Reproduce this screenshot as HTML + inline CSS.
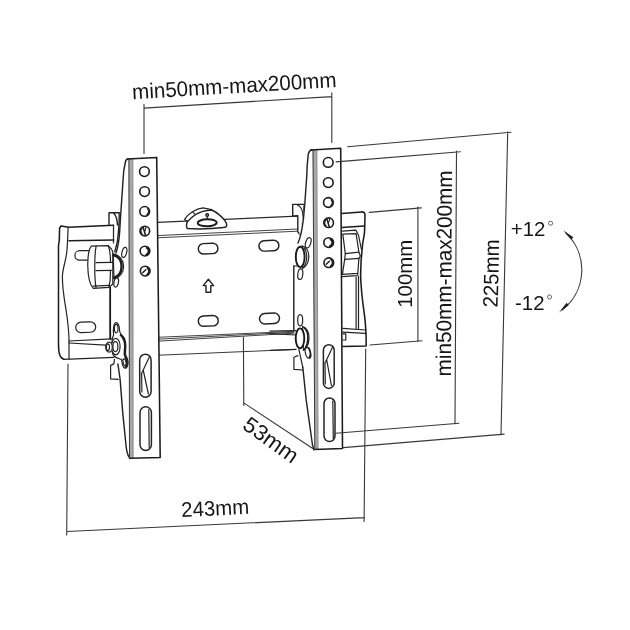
<!DOCTYPE html>
<html>
<head>
<meta charset="utf-8">
<title>TV mount dimensions</title>
<style>
html,body{margin:0;padding:0;background:#fff;}
body{width:630px;height:630px;overflow:hidden;font-family:"Liberation Sans",sans-serif;}
svg{display:block;position:absolute;left:0;top:0;opacity:0.999;}
.d{fill:none;stroke:#383838;stroke-width:1.1;stroke-linecap:round;}
.o{fill:none;stroke:#1c1c1c;stroke-width:1.55;stroke-linecap:round;stroke-linejoin:round;}
.t{fill:none;stroke:#242424;stroke-width:1.2;stroke-linecap:round;stroke-linejoin:round;}
.w{fill:#fff;stroke:#1c1c1c;stroke-width:1.55;stroke-linecap:round;stroke-linejoin:round;}
.wt{fill:#fff;stroke:#242424;stroke-width:1.2;stroke-linecap:round;stroke-linejoin:round;}
text{font-family:"Liberation Sans",sans-serif;fill:#161616;stroke:none;}
</style>
</head>
<body>
<svg width="630" height="630" viewBox="0 0 630 630">
<rect width="630" height="630" fill="#fff"/>
<defs><filter id="soft" x="0" y="0" width="630" height="630" filterUnits="userSpaceOnUse"><feGaussianBlur stdDeviation="0.45"/></filter></defs>
<g filter="url(#soft)">


<!-- ================= back plate (left part) ================= -->
<g id="plateL">
  <path class="o" d="M113.5,225.3 L68.5,227.2 L61.2,225.9 L59.6,228 L59.3,240 L58.5,246 L58.5,345 Q58.6,358.5 64,359.2"/>
  <path class="t" d="M68.1,227.6 C67.6,240 67.4,246 67,250 C66,262 62.4,268 62.4,277 C62.4,292 65.5,305 66.8,315 C68,324 69,332 69,341 L69,359"/>
    <path class="o" d="M69,240.7 L113.6,240"/>
  <path class="t" d="M113.5,225.4 L113.5,243"/>
  <rect class="t" x="75.7" y="322" width="20" height="10.4" rx="5.2" transform="rotate(-2 85.7 327)"/>
  <path class="o" d="M110.2,287.5 L110.2,339" style="stroke-width:1.9"/>
</g>

<!-- ================= rails / center plate ================= -->
<g id="rails">
  <g style="stroke:#3c3c3c">
  <path class="t" style="stroke-width:1.3;stroke:#2a2a2a" d="M157.5,222.4 L297.6,216.2"/>
  <path class="t" style="stroke-width:1;stroke:#444" d="M157.5,235.6 L297.6,229 M157.5,237.8 L297.6,231.2"/>
  <path class="t" style="stroke-width:1;stroke:#444" d="M157.5,337.3 L294,331.4 M157.5,339.2 L294,332.2 M157.5,341.2 L294,333.2"/>
  <path class="t" style="stroke-width:1.1;stroke:#3a3a3a" d="M157.5,355.2 L294,349.5"/>
  </g>
  <!-- slots -->
  <rect class="t" style="stroke-width:1.45" x="198.3" y="243.4" width="19.6" height="10.4" rx="5.2" transform="rotate(-2.5 208.6 249)"/>
  <rect class="t" style="stroke-width:1.45" x="258.9" y="240.5" width="20" height="10.4" rx="5.2" transform="rotate(-2.5 268.9 245.7)"/>
  <rect class="t" style="stroke-width:1.45" x="198.3" y="315.7" width="20" height="10.4" rx="5.2" transform="rotate(-2.5 208.3 320.9)"/>
  <rect class="t" style="stroke-width:1.45" x="259.5" y="313.3" width="20" height="10.4" rx="5.2" transform="rotate(-2.5 269.5 318.5)"/>
  <!-- arrow -->
  <path class="t" style="stroke-width:1.4" d="M208.4,279.2 L213.6,285.6 L210.8,285.6 L210.8,292.3 L206,292.3 L206,285.6 L203.2,285.6 Z"/>
  <!-- bubble level -->
  <path class="t" d="M184.6,219.4 C188,213.5 196,208.6 203,207.8 L211.7,209.6 M184.6,219.4 L187.6,221.4 M193,212.4 L195.6,214.6"/>
  <path class="wt" style="stroke-width:1.5" d="M187.4,228.6 C186,226.5 186.5,223.5 187.6,221.4 C193,215.5 201,211.2 207.2,210.5 L211.7,210 C216,212 221,216 224,219.5 C226,222 227.2,224 226.6,226 C226.2,227.3 225,227.5 223.5,227.6 C212,228.9 199,229.2 187.4,228.6 Z"/>
  <ellipse cx="207.2" cy="222.8" rx="9.5" ry="3.5" fill="none" stroke="#1a1a1a" stroke-width="1.9" transform="rotate(-1.5 207.2 222.8)"/>
  <circle cx="207.2" cy="215" r="1.3" fill="none" stroke="#1a1a1a" stroke-width="1.4"/>
  <path class="t" d="M207.2,216.6 L207.2,219"/>
</g>

<!-- ================= back plate (right part) ================= -->
<g id="plateR">
  <path class="o" d="M341.7,213.4 L361.5,211.9 Q365,211.8 365,215 L364.6,231 C364.2,237 363.2,240 362.6,244 L361.1,260.6 L360.6,275 C361,290 362.6,302 364.1,312.4 C365.4,321 366.2,330 366.2,346 L342.9,346.5"/>
  <path class="o" d="M341.7,227.6 L364.4,225.9"/>
  <path class="t" d="M342.6,231.2 L355.8,230.1 L358.6,235.5 L361.4,249.5"/>
  <path class="wt" d="M342.8,234.1 L356.1,233.7 L358.9,252.2 L345.3,253.6 Z"/>
  <path class="wt" d="M344.7,259.4 L358.9,258.3 L357.8,273.3 L342.4,274.4 Z"/>
  <path class="t" d="M358.9,252.2 L360.4,256 L358.9,258.3 M345.3,253.6 L344.7,259.4 M342.4,276.6 L357.2,275.6 L357.8,273.3"/>
  <path class="t" d="M358.5,276 L358.5,328.6 M356.1,277 L356.1,328.4"/>
  <path class="t" d="M342.9,328.4 L365.6,330 M342.9,332.1 L365.8,333.4"/>
  <path class="t" d="M343,333.8 L345.8,333.8 L345.8,340 L343,340"/>
</g>

<!-- ================= left bracket ================= -->
<g id="brL">
  <!-- flange -->
  <path d="M132.5,158.7 L126.4,159 L120.5,216 L113,256 L111.4,290 L111.4,330 L116.7,366.7 L124.3,442.9 L130,458.2 L132.8,458.2 Z" fill="#fff"/>
  <path class="t" style="stroke-width:1.45" d="M128,159 Q126,159.2 125.4,162 C124,168 123.3,173 123.2,178 L120.6,216 L119.7,231 C119.3,238 118,247 116,253"/>
  <path class="t" style="stroke-width:1.45" d="M117.9,364 L120.1,379.2 L122.7,412.4 L126.2,447.3 Q127.4,455.8 130,458.2"/>
  <!-- small tab -->
  <path class="t" style="stroke-width:1.4" d="M119.4,212.8 L109,212.8 L109,225.4 M113.5,213 C116.5,216 117.3,220 117.5,225 M119.2,213 C119.4,222 118.5,233 117.3,242 L114.8,251.6"/>
  <!-- front face -->
  <path d="M132.5,158.7 L156.7,157.4 L160.2,457.4 L132.8,458.2 Z" fill="#fff"/>
  <path d="M128.7,158.9 L132.7,158.7 L133,458.2 L129.3,458.2 Z" fill="#a8a8a8"/>
  <path class="t" style="stroke:#3a3a3a;stroke-width:1" d="M128.9,158.9 L129.5,458.2"/>
  <path class="t" style="stroke:#666;stroke-width:0.7" d="M132.9,158.7 L133.2,458.2"/>
  <path class="o" d="M127.6,159 L156.7,157.4 L160.2,457.4 L129.6,458.3"/>
  <!-- holes -->
  <g class="o" style="stroke-width:1.6">
    <circle cx="144.4" cy="171.6" r="4.85"/>
    <circle cx="144.6" cy="191.6" r="4.85"/>
    <circle cx="144.7" cy="211.4" r="4.85"/>
    <circle cx="144.8" cy="231.1" r="4.85"/>
    <circle cx="145.0" cy="251.1" r="4.85"/>
    <circle cx="145.2" cy="271.1" r="4.85"/>
  </g>
  <g fill="none" stroke="#1a1a1a" stroke-linecap="round">
    <path d="M147.5,208.6 A3.9,3.9 0 0 1 146.9,214.6" stroke-width="1.3"/>
    <path d="M143.2,227.5 L145.4,235.0" stroke-width="1.5"/>
    <path d="M146.0,227.2 L144.7,231.6" stroke-width="1.1"/>
    <path d="M142.3,234.1 A3.9,3.9 0 0 1 142.3,228.1" stroke-width="1.2"/>
    <path d="M146.8,247.9 A3.7,3.7 0 0 1 146.3,254.6" stroke-width="2.0"/>
    <path d="M147.3,268.0 A3.8,3.8 0 0 1 147.1,274.4" stroke-width="1.7"/>
    <path d="M142.6,272.7 L145.8,269.7" stroke-width="1.4"/>
  </g>
  <!-- slots -->
  <rect class="t" style="stroke-width:1.5" x="139.7" y="354.2" width="11.4" height="43" rx="5.7"/>
  <path class="t" d="M149.4,357 L141.3,374 M143.2,370 L148.4,394 M141.6,374 L141.9,392"/>
  <rect class="t" style="stroke-width:1.5" x="140" y="406.8" width="11.4" height="43.6" rx="5.7"/>
  <path class="t" d="M148.8,409.5 L149.2,447.5"/>
</g>

<!-- left knob -->
<g id="knobL">
  <path class="t" d="M90,250.7 L79.6,250.7 A4.7,4.7 0 0 0 79.6,260.1 L90,260.1"/>
  <path class="wt" d="M91.3,246.2 L108.3,245.6 L111.3,249 L112.8,251.5 L112.8,284 L108.9,287.4 L93.3,288.4 C90,285 88,276 87.8,266.5 C87.6,258 88.5,250 91.3,246.2 Z"/>
  <path class="t" d="M96.1,246.2 C94.3,255 94.3,279 96.1,288.2"/>
  <path class="t" d="M96,262.7 L112.8,262.4 M96,270.6 L111.6,270.3 M93,286.2 L109.5,285.4"/>
  <path class="t" d="M108.3,245.6 C110,250 110.6,256 110.4,262.4 M110.4,270.5 C110.6,277 110,283 108.9,287.4"/>
  <!-- star washer / bolt -->
  <ellipse class="wt" cx="124.3" cy="252.4" rx="2.3" ry="5.2" transform="rotate(14 124.3 252.4)"/>
  <ellipse class="wt" cx="116.2" cy="282.4" rx="2.2" ry="4.7" transform="rotate(12 116.2 282.4)"/>
  <path class="wt" d="M113.2,253.8 C119.5,255 123.6,260 123.6,266.5 C123.6,272.5 120,277.5 114,279 Z"/>
  <path d="M113.4,255.2 C118.6,256.6 121.6,261 121.6,266.5 C121.6,272 118.6,276.2 114.2,277.6" fill="none" stroke="#1a1a1a" stroke-width="2.4" stroke-linecap="round"/>
</g>

<!-- left lower bolt -->
<g id="boltL">
  <path class="t" d="M69,341 L111.7,338.9 M69,343 L105.6,345.2 M63.5,359.3 L113.9,357.4"/>
  <path class="wt" d="M116,322.6 C118.4,322.6 119.4,326.5 119.6,331 C119.7,333 120.5,334 122,335.2 C125.5,338 126.6,345 125.6,351 C125.2,353.5 125.4,355 126.4,356.6 C128,359.5 128.4,364 127,367 C126,369 124,368.4 123,366 C122,363.5 122,361 121.4,359.4 C119,358.6 116,358 114,356 C112,354 111.8,351 111.8,347 C111.8,342 112.2,337.5 113.6,335 C113,331 113.4,323 116,322.6 Z"/>
  <path d="M120.6,335 C124.8,338.5 125.4,346 124.6,351.5 C124.2,354 124.6,356 125.6,357.6 C127,360 127.2,364 126,367" fill="none" stroke="#1a1a1a" stroke-width="1.9" stroke-linecap="round"/>
  <ellipse class="t" cx="116.2" cy="328.6" rx="1.8" ry="4.2"/>
  <ellipse class="t" cx="124.6" cy="362.4" rx="1.5" ry="3.6" transform="rotate(-12 124.6 362.4)"/>
  <ellipse class="wt" cx="115.8" cy="346.6" rx="4.3" ry="8.2"/>
  <ellipse class="t" cx="115.4" cy="346.6" rx="2.5" ry="5"/>
  <ellipse class="wt" cx="109" cy="347.2" rx="3.3" ry="5"/>
  <ellipse class="t" cx="107.9" cy="347.2" rx="1.6" ry="3.4"/>
  <!-- small tab below -->
  <path class="t" d="M114.4,359.4 L113.9,363.9 L110.6,365.4 L110.6,378.9 L118.2,379.4"/>
</g>

<!-- ================= right bracket ================= -->
<g id="brR">
  <!-- tab of rail -->
  <path class="wt" style="stroke-width:1.4" d="M304.4,204.4 L292.7,204.4 L292.7,216 L297.8,215.8 L297.8,231.8 L301,236 Z"/>
  <path class="t" d="M297.4,205 C300.5,206 302.6,209.5 303.2,216"/>
  <!-- flange -->
  <path d="M316.6,149.3 L310.5,149.6 L304.8,204 L298,243 L294.6,266 L294.6,330 L302.8,367.2 L306.2,400 L313.8,449.5 L317.6,449.5 Z" fill="#fff"/>
  <path class="t" style="stroke-width:1.45" d="M311.6,149.8 Q309.2,150.4 308.3,154 C307.4,161 306.9,169 306.7,177 L304.8,204 L303.3,220 C302,230 300.5,238 298,243"/>
  <path class="t" style="stroke-width:1.45" d="M293.8,266 L293.8,329.6"/>
  <path class="t" style="stroke-width:1.45" d="M302.8,367.2 L306.2,400 L312.5,445 L313.8,449.5"/>
  <!-- front face -->
  <path d="M316.6,149.6 L340.7,148.3 L342.5,448.6 L317.6,449.5 Z" fill="#fff"/>
  <path d="M312.8,149.8 L316.7,149.6 L317.9,449.5 L314.6,449.5 Z" fill="#a8a8a8"/>
  <path class="t" style="stroke:#3a3a3a;stroke-width:1" d="M313,149.8 L314.8,449.5"/>
  <path class="t" style="stroke:#666;stroke-width:0.7" d="M316.9,149.6 L318.1,449.5"/>
  <path class="o" d="M311.2,149.9 L340.7,148.3 L342.5,448.6 L313.8,449.6"/>
  <!-- holes -->
  <g class="o" style="stroke-width:1.6">
    <circle cx="328.2" cy="162.4" r="4.85"/>
    <circle cx="328.3" cy="182.6" r="4.85"/>
    <circle cx="328.4" cy="202.5" r="4.85"/>
    <circle cx="328.6" cy="222.7" r="4.85"/>
    <circle cx="328.7" cy="242.6" r="4.85"/>
    <circle cx="328.8" cy="262.7" r="4.85"/>
  </g>
  <g fill="none" stroke="#1a1a1a" stroke-linecap="round">
    <path d="M331.2,199.7 A3.9,3.9 0 0 1 330.7,205.7" stroke-width="1.3"/>
    <path d="M327.0,219.1 L329.2,226.6" stroke-width="1.5"/>
    <path d="M329.8,218.8 L328.4,223.2" stroke-width="1.1"/>
    <path d="M326.1,225.7 A3.9,3.9 0 0 1 326.1,219.7" stroke-width="1.2"/>
    <path d="M330.5,239.4 A3.7,3.7 0 0 1 329.9,246.1" stroke-width="2.0"/>
    <path d="M331.0,259.6 A3.8,3.8 0 0 1 330.7,266.0" stroke-width="1.7"/>
    <path d="M326.2,264.3 L329.4,261.3" stroke-width="1.4"/>
  </g>
  <!-- slots -->
  <rect class="t" style="stroke-width:1.5" x="323.4" y="344.8" width="10.8" height="43.6" rx="5.4"/>
  <path class="t" d="M332.4,347.4 L324.8,363.6 M326.7,359.8 L331.4,385.5 M325,364 L325.3,384"/>
  <rect class="t" style="stroke-width:1.5" x="324" y="398" width="11" height="43.6" rx="5.5"/>
  <path class="t" d="M332.8,401 L333.3,439"/>
</g>

<!-- right bolts -->
<g id="boltR">
  <ellipse class="wt" cx="308.2" cy="242.8" rx="2.5" ry="5.3" transform="rotate(18 308.2 242.8)"/>
  <ellipse class="wt" cx="300.3" cy="274.2" rx="2.5" ry="5.3" transform="rotate(6 300.3 274.2)"/>
  <path class="wt" d="M302,245.8 C307,247.5 309,252 308.8,257 C308.6,262.5 306,266.5 302.6,268.4 Z"/>
  <path class="t" d="M304,248 C306.2,250.5 306.8,254 306.7,257.5 C306.6,261.5 305.6,264.5 303.8,266.6"/>
  <ellipse cx="300.2" cy="256.9" rx="4.4" ry="10.2" fill="#fff" stroke="#1a1a1a" stroke-width="1.9"/>
  <path class="t" d="M293.7,266 L297,266"/>

  <path class="t" d="M270,331.2 L296,330.6 M270,333.6 L296,335 M270,350.4 L296,349.4"/>
  <ellipse class="wt" cx="300.2" cy="320.2" rx="2.5" ry="5.6"/>
  <ellipse class="wt" cx="308" cy="352.8" rx="2.6" ry="5.5" transform="rotate(-14 308 352.8)"/>
  <path class="wt" d="M302.6,326.4 C307.5,328.5 309.2,333.5 309,338.5 C308.8,344 307,348 303.4,350.4 Z"/>
  <path d="M304.4,328 C307.6,331 308,335 307.9,338.5 C307.8,342.5 306.8,346 305,348.6 M308.6,348 C310.2,350.5 310.6,355 309.6,357.6" fill="none" stroke="#1a1a1a" stroke-width="1.6" stroke-linecap="round"/>
  <ellipse cx="300" cy="338.3" rx="4.3" ry="9.9" fill="#fff" stroke="#1a1a1a" stroke-width="1.9"/>
  <path class="t" d="M297.8,355.6 L293.9,357.2 L293.9,369.4 L302.8,370 M298.9,349.6 L302.8,367.2"/>
</g>

<!-- ================= dimension lines ================= -->
<g class="d" id="dims">
  <!-- top min-max -->
  <path d="M144,153.5 L144,104.3 M144,108.1 L331.8,96.6 M331.8,92.9 L331.8,142.5"/>
  <!-- 243mm -->
  <path d="M68,364 L66.7,534.9 M66.7,531.5 L364.5,517.6 M365.7,349 L364.1,521.4"/>
  <!-- 53mm -->
  <path d="M243.4,337 L243.8,405.5 M243.8,402.9 L314.3,449.5"/>
  <!-- 100mm -->
  <path d="M369.3,212.4 L421.4,207.9 M417.9,207 L417.9,341.6 M370,345 L422.1,340.7"/>
  <!-- min-max right -->
  <path d="M336.2,161.9 L460.3,151.7 M456.5,151 L455,424 M335.7,433.3 L459,423.3"/>
  <!-- 225mm -->
  <path d="M347.6,146.7 L511.1,132.3 M507.7,131.8 L501,434.8 M343.3,447.6 L504.1,434.1"/>
</g>

<!-- ================= angle arc ================= -->
<g id="arc">
  <path class="d" d="M566,233.2 A50.5,50.5 0 0 1 562,310"/>
  <path d="M563.2,230.2 L573.3,237.2 L571.2,239.7 Z" fill="#222"/>
  <path d="M559,312.6 L568.6,305.2 L566.6,302.8 Z" fill="#222"/>
</g>

<!-- ================= labels ================= -->
<g id="labels">
  <text x="132.6" y="99.2" font-size="21.4" textLength="204.6" lengthAdjust="spacingAndGlyphs" transform="rotate(-3.4 132.6 99.2)">min50mm-max200mm</text>
  <text x="181.6" y="517" font-size="21" textLength="68" lengthAdjust="spacingAndGlyphs" transform="rotate(-2.7 181.6 517)">243mm</text>
  <text x="241.2" y="427.8" font-size="21.6" textLength="62.5" lengthAdjust="spacingAndGlyphs" transform="rotate(35.5 241.2 427.8)">53mm</text>
  <text x="0" y="0" font-size="21" textLength="68" lengthAdjust="spacingAndGlyphs" transform="translate(411.6 307.8) rotate(-90)">100mm</text>
  <text x="0" y="0" font-size="21.4" textLength="206" lengthAdjust="spacingAndGlyphs" transform="translate(450.9 376.4) rotate(-89.7)">min50mm-max200mm</text>
  <text x="0" y="0" font-size="21" textLength="68" lengthAdjust="spacingAndGlyphs" transform="translate(497.6 307.6) rotate(-88.6)">225mm</text>
  <text x="510.8" y="235.6" font-size="20.4">+12</text>
  <circle cx="550.6" cy="223.2" r="2.05" fill="none" stroke="#444" stroke-width="0.8"/>
  <text x="515" y="309.5" font-size="20.4">-12</text>
  <circle cx="549.5" cy="297" r="2.05" fill="none" stroke="#444" stroke-width="0.8"/>
</g>
</g>
</svg>
</body>
</html>
